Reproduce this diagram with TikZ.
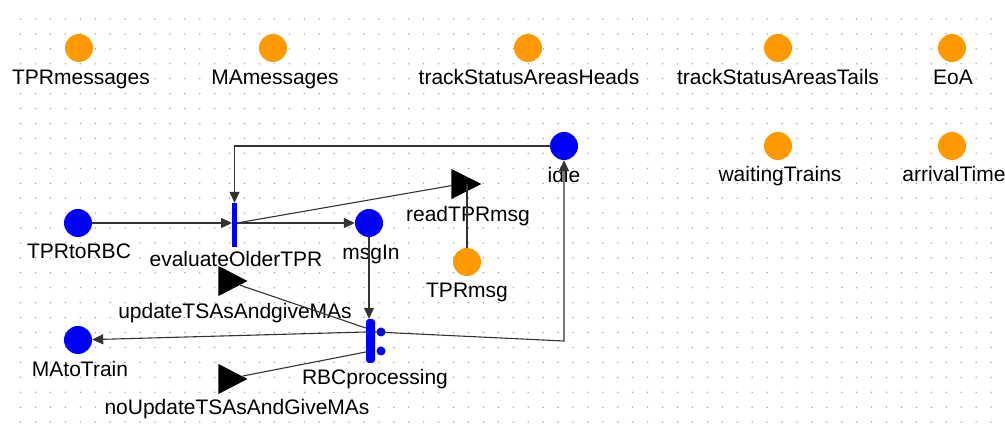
\documentclass[tikz,border=0pt]{standalone}
\usepackage{fontspec}
\setmainfont{Liberation Sans}
\usetikzlibrary{shapes.geometric,arrows.meta}
\definecolor{placeorange}{RGB}{255,153,0}
\definecolor{netblue}{RGB}{0,0,255}

\begin{document}
\begin{tikzpicture}[x=1pt,y=-1pt,
  place/.style={circle,fill=#1,minimum size=28pt,inner sep=0pt},
  place/.default=netblue,
  transbar/.style={rectangle,fill=netblue,minimum width=4.5pt,minimum height=44pt,inner sep=0pt},
  subnet/.style={isosceles triangle,isosceles triangle stretches,fill=black,
    minimum width=30pt,minimum height=30pt,inner sep=0pt,anchor=apex},
  lbl/.style={anchor=base,inner sep=0pt,font=\fontsize{21}{24}\selectfont},
  arcline/.style={draw=black!80,line width=1.1pt},
  arctip/.style={arcline,-{Triangle[length=11pt,width=10pt]}}]
  \fill[white] (0,0) rectangle (1005,435);
  \useasboundingbox (0,0) rectangle (1005,435);
  % grid
  \foreach \i in {0,...,65}
    \foreach \j in {0,...,27}
      \fill[black!40] ({20.6+14.93*\i},{19+14.93*\j}) circle (0.75);
  %
  \node[place=placeorange] (TPRmessages) at (79,48) {};
  \node[place=placeorange] (MAmessages) at (273,48) {};
  \node[place=placeorange] (trackStatusAreasHeads) at (528,48) {};
  \node[place=placeorange] (trackStatusAreasTails) at (778,48) {};
  \node[place=placeorange] (EoA) at (952,48) {};
  \node[place=placeorange] (waitingTrains) at (778,146) {};
  \node[place=placeorange] (arrivalTime) at (952,146) {};
  \node[place=placeorange] (TPRmsg) at (467,262) {};
  \node[place] (idle) at (564,146) {};
  \node[place] (TPRtoRBC) at (78,223) {};
  \node[place] (msgIn) at (369,223) {};
  \node[place] (MAtoTrain) at (78,340) {};
  %
  \node[transbar] (evaluateOlderTPR) at (234.5,225) {};
  \node[transbar,minimum width=9pt,rounded corners=3pt] (RBCprocessing) at (370.5,341) {};
  \node[circle,fill=netblue,minimum size=9pt,inner sep=0pt] (RBCdotA) at (381,332) {};
  \node[circle,fill=netblue,minimum size=9pt,inner sep=0pt] (RBCdotB) at (381,351) {};
  \node[subnet] (readTPRmsg) at (482,184) {};
  \node[subnet,minimum height=29pt] (updateTSAsAndgiveMAs) at (248,281) {};
  \node[subnet,minimum height=29pt] (noUpdateTSAsAndGiveMAs) at (248,379) {};
  %
  \node[lbl] (TPRmessagesL) at (81,85) {TPRmessages};
  \node[lbl] (MAmessagesL) at (275,85) {MAmessages};
  \node[lbl] (trackStatusAreasHeadsL) at (529,85) {trackStatusAreasHeads};
  \node[lbl] (trackStatusAreasTailsL) at (778,85) {trackStatusAreasTails};
  \node[lbl] (EoAL) at (953,85) {EoA};
  \node[lbl] (waitingTrainsL) at (780,182) {waitingTrains};
  \node[lbl] (arrivalTimeL) at (954,182) {arrivalTime};
  \node[lbl] (idleL) at (564,183) {idle};
  \node[lbl] (TPRtoRBCL) at (79,259) {TPRtoRBC};
  \node[lbl] (msgInL) at (371,260) {msgIn};
  \node[lbl] (TPRmsgL) at (467,298) {TPRmsg};
  \node[lbl] (MAtoTrainL) at (80,377) {MAtoTrain};
  \node[lbl] (evaluateOlderTPRL) at (236,267) {evaluateOlderTPR};
  \node[lbl] (RBCprocessingL) at (375,385) {RBCprocessing};
  \node[lbl] (readTPRmsgL) at (468,222) {readTPRmsg};
  \node[lbl] (updateTSAsAndgiveMAsL) at (235,319) {updateTSAsAndgiveMAs};
  \node[lbl] (noUpdateTSAsAndGiveMAsL) at (237,415) {noUpdateTSAsAndGiveMAs};
  %
  \draw[arctip] (idle) -| (evaluateOlderTPR);
  \draw[arctip] (TPRtoRBC) -- (TPRtoRBC -| evaluateOlderTPR.west);
  \draw[arctip] (evaluateOlderTPR.east |- msgIn) -- (msgIn);
  \draw[arcline] ([yshift=2]evaluateOlderTPR.east) -- (readTPRmsg);
  \draw[arcline] (TPRmsg) -- (TPRmsg |- readTPRmsg);
  \draw[arctip] (msgIn) -- (msgIn |- RBCprocessing.north);
  %
  \draw[arctip] ([yshift=9]RBCprocessing.west) -- (MAtoTrain);
  \draw[arcline] ([yshift=13]RBCprocessing.west) -- (updateTSAsAndgiveMAs);
  \draw[arcline] ([yshift=-11]RBCprocessing.west) -- (noUpdateTSAsAndGiveMAs);
  \draw[arctip] ([yshift=9]RBCprocessing.east) -- (idle |- RBCprocessing) -- (idle);
\end{tikzpicture}
\end{document}
